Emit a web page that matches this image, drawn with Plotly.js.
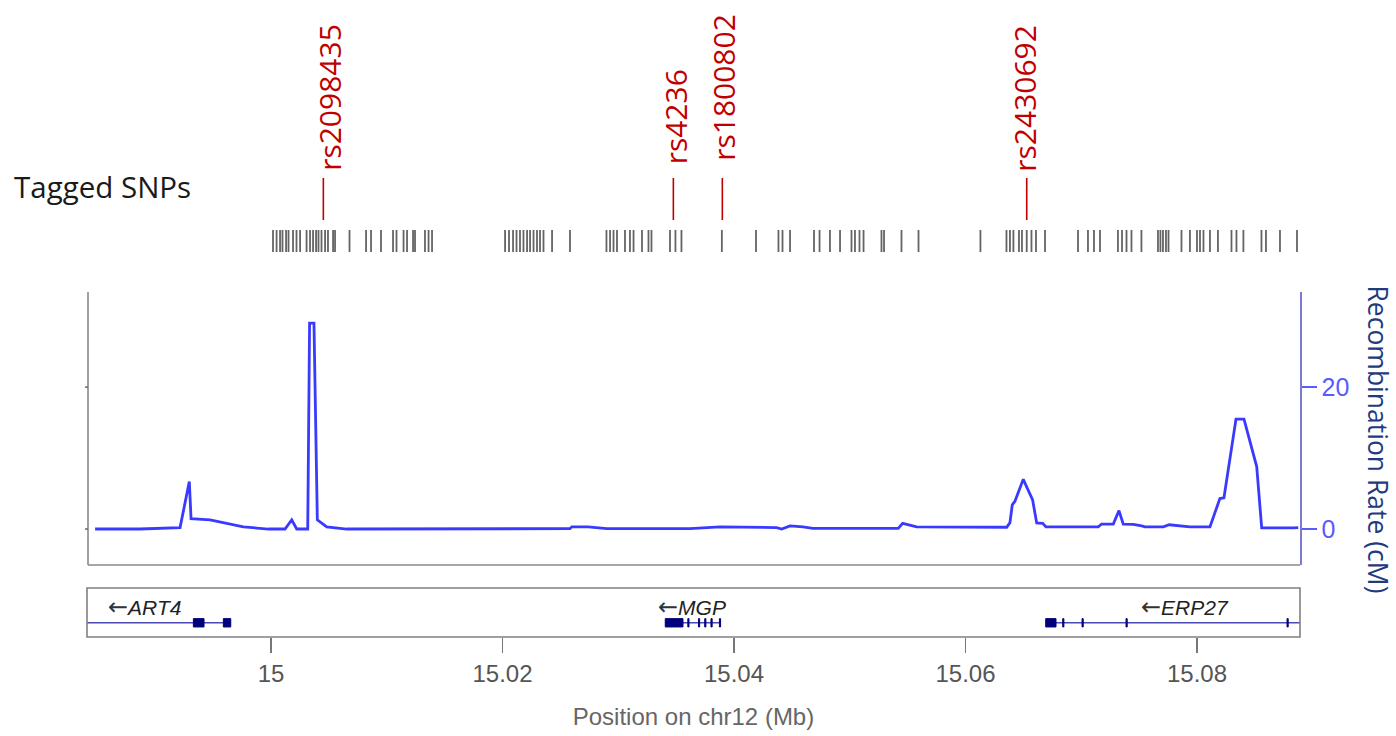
<!DOCTYPE html>
<html>
<head>
<meta charset="utf-8">
<script src="https://cdn.plot.ly/plotly-3.0.1.min.js"></script>
<style>html,body{margin:0;padding:0;background:#fff;} #chart{width:1396px;height:736px;}</style>
</head>
<body>
<div id="chart"></div>
<script>
// ---------------- DATA (positions in Mb on chr12) ----------------
const recPos = [14.98480, 14.98868, 14.99214, 14.99294, 14.99309, 14.99473, 14.99761, 14.99977, 15.00121, 15.00179,
  15.00222, 15.00317, 15.00333, 15.00371, 15.00400, 15.00481, 15.00654, 15.01719, 15.02583, 15.02598,
  15.02741, 15.02900, 15.03620, 15.03879, 15.04369, 15.04412, 15.04484, 15.04596, 15.04682, 15.05419,
  15.05457, 15.05578, 15.05952, 15.06356, 15.06384, 15.06404, 15.06427, 15.06499, 15.06580, 15.06615,
  15.06667, 15.06695, 15.07147, 15.07176, 15.07277, 15.07326, 15.07363, 15.07449, 15.07522, 15.07551,
  15.07709, 15.07760, 15.07939, 15.08112, 15.08198, 15.08233, 15.08337, 15.08406, 15.08516, 15.08559,
  15.08832, 15.08875];
const recRate = [0.0, 0.0, 0.2, 6.7, 1.45, 1.3, 0.3, 0.0, 0.0, 1.3,
  0.0, 0.0, 29.0, 29.0, 1.3, 0.3, 0.0, 0.05, 0.05, 0.3,
  0.3, 0.05, 0.05, 0.3, 0.2, 0.0, 0.45, 0.3, 0.1, 0.1,
  0.8, 0.3, 0.25, 0.25, 0.9, 3.4, 3.9, 7.0, 4.1, 0.85,
  0.8, 0.3, 0.3, 0.7, 0.7, 2.6, 0.7, 0.65, 0.45, 0.3,
  0.3, 0.6, 0.3, 0.3, 4.3, 4.4, 15.5, 15.5, 8.8, 0.15,
  0.15, 0.2];

const snpPos = [15.00017, 15.00048, 15.00078, 15.00099, 15.00130, 15.00151, 15.00190, 15.00220, 15.00251, 15.00307,
  15.00337, 15.00363, 15.00389, 15.00410, 15.00436, 15.00467, 15.00492, 15.00536, 15.00553, 15.00678,
  15.00821, 15.00864, 15.00950, 15.01054, 15.01084, 15.01145, 15.01175, 15.01227, 15.01244, 15.01330,
  15.01361, 15.01391, 15.02022, 15.02056, 15.02091, 15.02121, 15.02151, 15.02181, 15.02212, 15.02238,
  15.02268, 15.02298, 15.02324, 15.02354, 15.02428, 15.02583, 15.02898, 15.02929, 15.02959, 15.02989,
  15.03058, 15.03101, 15.03132, 15.03205, 15.03261, 15.03287, 15.03447, 15.03494, 15.03546, 15.03895,
  15.04190, 15.04384, 15.04419, 15.04484, 15.04691, 15.04739, 15.04829, 15.04916, 15.05015, 15.05045,
  15.05084, 15.05119, 15.05274, 15.05296, 15.05447, 15.05594, 15.06129, 15.06354, 15.06384, 15.06414,
  15.06462, 15.06488, 15.06529, 15.06570, 15.06609, 15.06687, 15.06972, 15.07058, 15.07110, 15.07162,
  15.07317, 15.07352, 15.07391, 15.07434, 15.07520, 15.07663, 15.07684, 15.07706, 15.07732, 15.07754,
  15.07866, 15.07939, 15.08000, 15.08026, 15.08056, 15.08112, 15.08181, 15.08298, 15.08341, 15.08401,
  15.08557, 15.08596, 15.08717, 15.08864];

const taggedNames = ['rs2098435', 'rs4236', 'rs1800802', 'rs2430692'];
const taggedPos = [15.00452, 15.03476, 15.03899, 15.06529];

const geneNames = ['ART4', 'MGP', 'ERP27'];
const geneStart = [14.9790, 15.03406, 15.06693];
const geneEnd = [14.99652, 15.03879, 15.0950];
const geneLabelPos = [14.98572, 15.03325, 15.07500];

const exonGene = ['ART4', 'ART4', 'MGP', 'MGP', 'MGP', 'MGP', 'MGP', 'MGP', 'ERP27', 'ERP27', 'ERP27', 'ERP27', 'ERP27'];
const exonStart = [14.99329, 14.99588, 15.03406, 15.03601, 15.03693, 15.03747, 15.03801, 15.03874, 15.06693, 15.06840, 15.07007, 15.07387, 15.08778];
const exonEnd   = [14.99421, 14.99652, 15.03559, 15.03611, 15.03703, 15.03757, 15.03811, 15.03884, 15.06782, 15.06850, 15.07017, 15.07397, 15.08788];

const xTickVals = [15, 15.02, 15.04, 15.06, 15.08];
const xTickText = ['15', '15.02', '15.04', '15.06', '15.08'];
const yTickVals = [0, 20];

// ---------------- LAYOUT HELPERS (pixel geometry) ----------------
const W = 1396, H = 736;
const ML = 87, MR = 96, MT = 0, MB = 99;
const PW = W - ML - MR, PH = H - MT - MB;
const px = p => (p - ML) / PW;        // page x pixel -> paper x
const py = p => (H - MB - p) / PH;    // page y pixel -> paper y

const mainDom = [py(565), py(292)];
const geneDom = [py(637), py(588)];

const traces = [{
  x: recPos, y: recRate, type: 'scatter', mode: 'lines',
  xaxis: 'x', yaxis: 'y',
  line: {color: '#3a3aff', width: 2.8},
  hoverinfo: 'skip'
}];
geneNames.forEach((g, i) => {
  traces.push({
    x: [geneStart[i], geneEnd[i]], y: [0.29, 0.29], type: 'scatter', mode: 'lines',
    xaxis: 'x', yaxis: 'y2', line: {color: '#4a4ab0', width: 1.6}, hoverinfo: 'skip'
  });
});

const shapes = [];
// gene panel box
shapes.push({type: 'rect', xref: 'paper', yref: 'paper', x0: 0, x1: 1, y0: geneDom[0], y1: geneDom[1],
  line: {color: '#808080', width: 1.6}, fillcolor: 'rgba(0,0,0,0)'});
// main panel left and bottom lines
shapes.push({type: 'line', xref: 'paper', yref: 'paper', x0: px(88), x1: px(88), y0: mainDom[0], y1: mainDom[1],
  line: {color: '#8a8a8a', width: 1.6}});
shapes.push({type: 'line', xref: 'paper', yref: 'paper', x0: px(88), x1: 1, y0: mainDom[0], y1: mainDom[0],
  line: {color: '#8a8a8a', width: 1.6}});
yTickVals.forEach(v => shapes.push({type: 'line', xref: 'paper', yref: 'y', x0: px(85), x1: px(88), y0: v, y1: v,
  line: {color: '#666', width: 1.5}}));
// exons
exonStart.forEach((s, i) => shapes.push({type: 'rect', xref: 'x', yref: 'y2', x0: s, x1: exonEnd[i], y0: 0.205, y1: 0.375,
  fillcolor: '#00007a', line: {color: '#00007a', width: 1}}));
// SNP ticks
snpPos.forEach(s => shapes.push({type: 'line', xref: 'x', yref: 'paper', x0: s, x1: s, y0: py(252), y1: py(230),
  line: {color: 'rgba(40,40,40,0.72)', width: 1.8}}));
// tagged SNP red lines
taggedPos.forEach(s => shapes.push({type: 'line', xref: 'x', yref: 'paper', x0: s, x1: s, y0: py(220), y1: py(178),
  line: {color: '#c00000', width: 1.6}}));

const annotations = [];
const labelBottom = [173, 166, 163, 174];
const labelShift = [6, 2.5, 1, -2.5];
taggedNames.forEach((n, i) => annotations.push({
  text: n, xref: 'x', yref: 'paper', x: taggedPos[i], y: py(labelBottom[i]), xanchor: 'center', yanchor: 'bottom',
  xshift: labelShift[i], textangle: -90, showarrow: false,
  font: {family: 'Open Sans', size: 30, color: '#c00000'}
}));
annotations.push({text: 'Tagged SNPs', xref: 'paper', yref: 'paper', x: px(12), y: py(186), xanchor: 'left', yanchor: 'middle',
  showarrow: false, font: {family: 'Open Sans', size: 29.5, color: '#1a1a1a'}});
annotations.push({text: 'Recombination Rate (cM)', xref: 'paper', yref: 'paper', x: px(1377.5), y: py(439),
  xanchor: 'center', yanchor: 'middle', textangle: 90, showarrow: false,
  font: {family: 'Open Sans', size: 26.5, color: '#1f3b80'}});
geneNames.forEach((g, i) => annotations.push({
  text: '<span style="font-family:DejaVu Sans;font-size:24px;color:#333">\u2190</span><i>' + g + '</i>',
  xref: 'x', yref: 'y2', x: geneLabelPos[i], y: 0.61, xanchor: 'left', yanchor: 'middle',
  showarrow: false, font: {family: 'Liberation Sans', size: 21, color: '#222'}
}));

const layout = {
  width: W, height: H,
  margin: {l: ML, r: MR, t: MT, b: MB, pad: 0},
  paper_bgcolor: '#ffffff', plot_bgcolor: 'rgba(0,0,0,0)',
  showlegend: false,
  xaxis: {
    range: [14.9841, 15.0889], anchor: 'y2', domain: [0, 1],
    tickmode: 'array', tickvals: xTickVals, ticktext: xTickText,
    ticks: 'outside', ticklen: 15, tickwidth: 1.6, tickcolor: '#777',
    showline: false, showgrid: false, zeroline: false,
    tickfont: {family: 'Liberation Sans', size: 24, color: '#555'},
    title: {text: 'Position on chr12 (Mb)', font: {family: 'Liberation Sans', size: 24, color: '#666'}, standoff: 22}
  },
  yaxis: {
    domain: mainDom, range: [-5.07, 33.4], side: 'right', anchor: 'x',
    showline: true, linecolor: '#7a7ad0', linewidth: 1.6,
    ticks: 'outside', ticklen: 15, tickwidth: 1.6, tickcolor: '#5a5aff',
    tickmode: 'array', tickvals: yTickVals, ticktext: ['0', '20'],
    tickfont: {family: 'Liberation Sans', size: 25, color: '#5a5aff'},
    showgrid: false, zeroline: false
  },
  yaxis2: {domain: geneDom, range: [0, 1], anchor: 'x', visible: false, showgrid: false, zeroline: false},
  shapes: shapes,
  annotations: annotations
};

Plotly.newPlot('chart', traces, layout, {staticPlot: true, displayModeBar: false});
</script>
</body>
</html>
